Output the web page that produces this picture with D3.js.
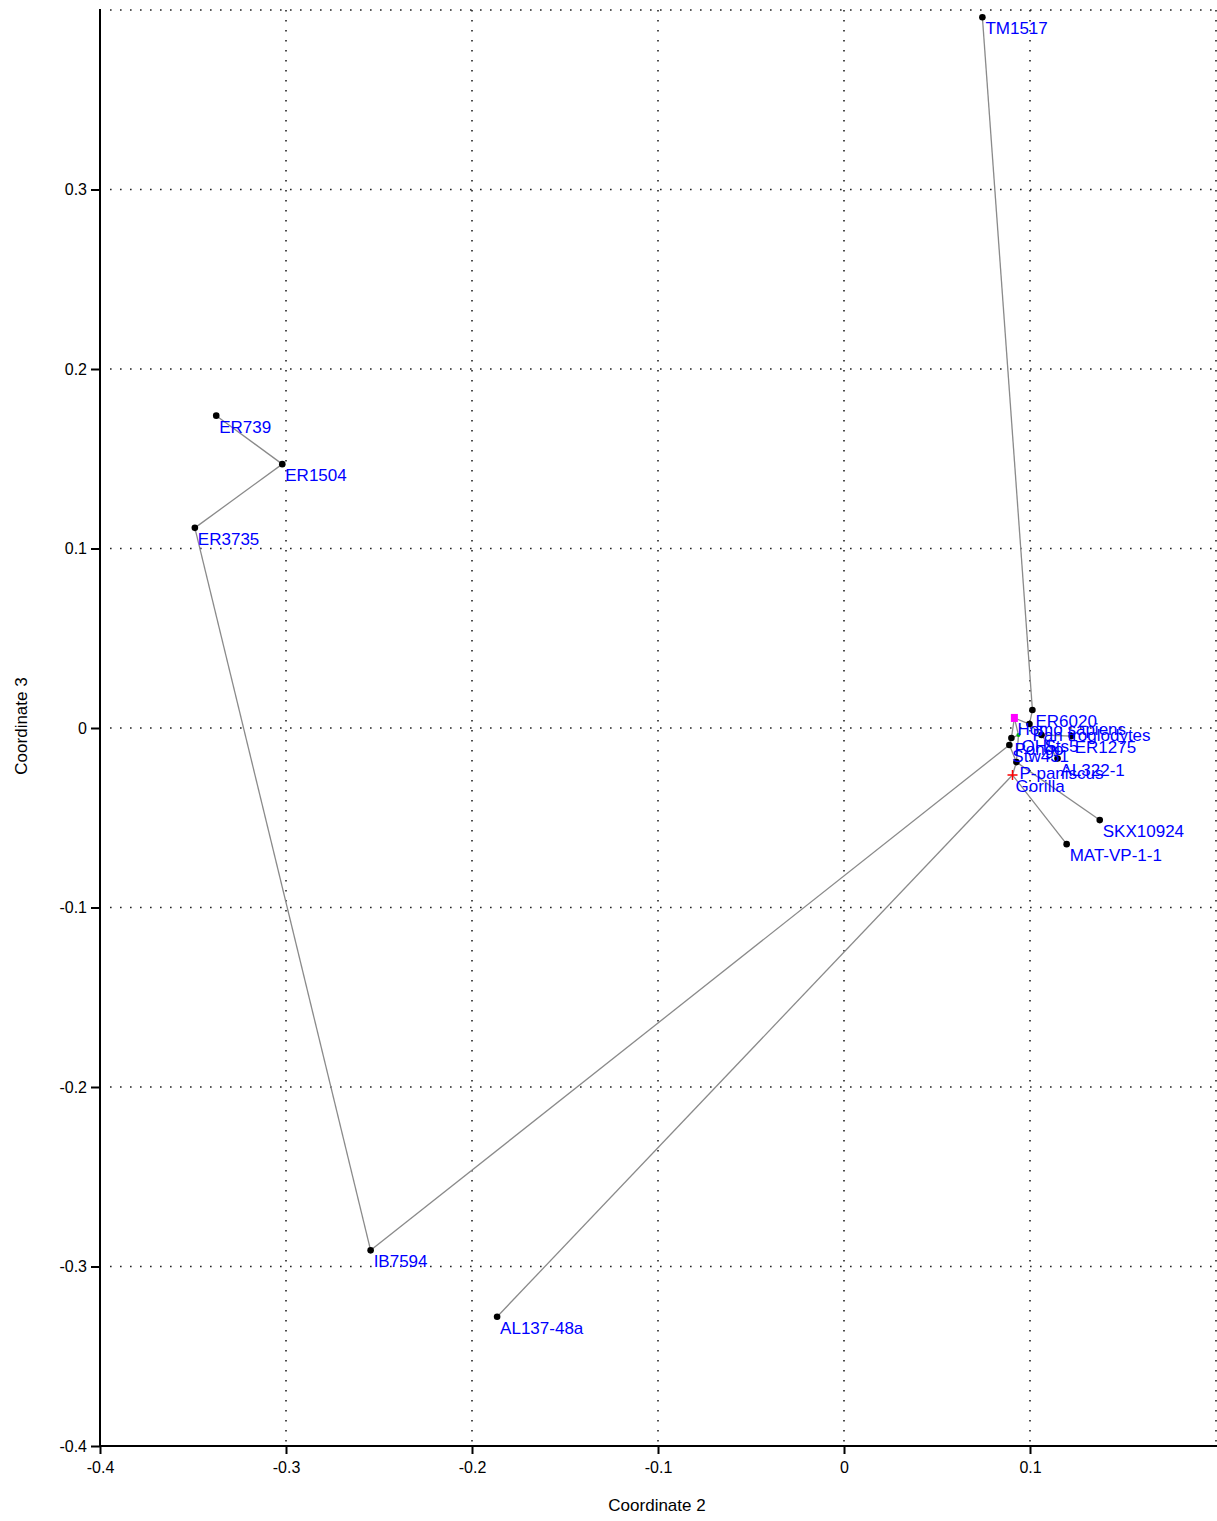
<!DOCTYPE html>
<html><head><meta charset="utf-8">
<script src="https://cdn.jsdelivr.net/npm/d3@7"></script>
<style>body{margin:0;background:#fff;} svg{display:block;}</style>
</head><body>
<svg id="c" width="1217" height="1521"></svg>
<script>
// Specimen names, Coordinate 2 (x), Coordinate 3 (y)
const names = ["TM1517","ER6020","Homo sapiens","Pan troglodytes","OH5","Pongo","Sts5","ER1275","Stw431","AL322-1","P-paniscus","Gorilla","SKX10924","MAT-VP-1-1","ER739","ER1504","ER3735","IB7594","AL137-48a"];
const coord2 = [0.0744,0.1013,0.0916,0.0997,0.0938,0.0900,0.1062,0.1224,0.0889,0.1148,0.0927,0.0906,0.1375,0.1197,-0.3375,-0.302,-0.349,-0.2545,-0.1865];
const coord3 = [0.396,0.0100,0.0056,0.0022,-0.0039,-0.0056,-0.0039,-0.0045,-0.0095,-0.0170,-0.0190,-0.0262,-0.0513,-0.0647,0.174,0.147,0.1115,-0.291,-0.328];
const markers = ["dot","dot","pink","dot","green","dot","dot","dot","dot","dot","dot","plus","dot","dot","dot","dot","dot","dot","dot"];
// minimum spanning tree edges
const edgeFrom = ["TM1517","ER6020","Pan troglodytes","Homo sapiens","OH5","Pongo","Stw431","P-paniscus","Sts5","ER1275","AL322-1","SKX10924","MAT-VP-1-1","IB7594","AL137-48a","ER739","ER1504","ER3735","Homo sapiens","OH5"];
const edgeTo   = ["ER6020","Pan troglodytes","Homo sapiens","OH5","Pongo","Stw431","P-paniscus","Gorilla","Pan troglodytes","Sts5","Sts5","P-paniscus","Gorilla","Stw431","Gorilla","ER1504","ER3735","IB7594","Pongo","P-paniscus"];
const xTicks = [-0.4,-0.3,-0.2,-0.1,0,0.1];
const yTicks = [-0.4,-0.3,-0.2,-0.1,0,0.1,0.2,0.3];
const xGrid = [-0.3,-0.2,-0.1,0,0.1,0.2];
const yGrid = [-0.3,-0.2,-0.1,0,0.1,0.2,0.3,0.4];

const svg = d3.select("#c");
const x = d3.scaleLinear().domain([-0.4,0.2]).range([100,1216]);
const y = d3.scaleLinear().domain([-0.4,0.4]).range([1446,10]);
const fmt = d => d===0 ? "0" : d3.format(".1f")(d).replace("\u2212","-");

// grid
const g = svg.append("g");
g.selectAll("line.vx").data(xGrid).join("line")
  .attr("x1",d=>x(d)).attr("x2",d=>x(d)).attr("y1",y(0.4)).attr("y2",y(-0.4))
  .attr("stroke","#222").attr("stroke-width",1.6).attr("stroke-dasharray","1.6,8.4");
g.selectAll("line.hy").data(yGrid).join("line")
  .attr("y1",d=>y(d)).attr("y2",d=>y(d)).attr("x1",x(-0.4)+10).attr("x2",x(0.2))
  .attr("stroke","#222").attr("stroke-width",1.6).attr("stroke-dasharray","1.6,8.4");

// axes
const xa = svg.append("g").attr("transform",`translate(0,${y(-0.4)})`)
  .call(d3.axisBottom(x).tickValues(xTicks).tickFormat(fmt).tickSize(8).tickPadding(8));
xa.select(".domain").attr("d",`M${x(-0.4)},0H1217`);
const ya = svg.append("g").attr("transform",`translate(${x(-0.4)},0)`)
  .call(d3.axisLeft(y).tickValues(yTicks).tickFormat(fmt).tickSize(9).tickPadding(4));
ya.select(".domain").attr("d",`M0,${y(0.4)-1}V${y(-0.4)}`);
svg.selectAll(".domain").attr("stroke","#000").attr("stroke-width",2);
svg.selectAll(".tick line").attr("stroke","#000").attr("stroke-width",2);
svg.selectAll(".tick text").attr("font-family","Arial, 'Liberation Sans', sans-serif").attr("font-size",16).attr("fill","#000");

svg.append("text").attr("x",657).attr("y",1511).attr("text-anchor","middle")
  .attr("font-family","Arial, 'Liberation Sans', sans-serif").attr("font-size",17).text("Coordinate 2");
svg.append("text").attr("transform","translate(27,726) rotate(-90)").attr("text-anchor","middle")
  .attr("font-family","Arial, 'Liberation Sans', sans-serif").attr("font-size",17).text("Coordinate 3");

// data
const pts = names.map((n,i)=>({name:n,x:coord2[i],y:coord3[i],m:markers[i]}));
const byName = Object.fromEntries(pts.map(p=>[p.name,p]));
const edges = edgeFrom.map((f,i)=>({a:byName[f],b:byName[edgeTo[i]]}));

svg.append("g").selectAll("line").data(edges).join("line")
  .attr("x1",e=>x(e.a.x)).attr("y1",e=>y(e.a.y)).attr("x2",e=>x(e.b.x)).attr("y2",e=>y(e.b.y))
  .attr("stroke","#8a8a8a").attr("stroke-width",1.3);

const pg = svg.append("g");
pg.selectAll("circle").data(pts.filter(p=>p.m==="dot"||p.m==="green")).join("circle")
  .attr("cx",p=>x(p.x)).attr("cy",p=>y(p.y)).attr("r",p=>p.m==="green"?2:3.3)
  .attr("fill",p=>p.m==="green"?"#00b000":"#000");
pg.selectAll("rect").data(pts.filter(p=>p.m==="pink")).join("rect")
  .attr("x",p=>x(p.x)-3.5).attr("y",p=>y(p.y)-4).attr("width",7).attr("height",8).attr("fill","#ff00ff");
pts.filter(p=>p.m==="plus").forEach(p=>{
  pg.append("path").attr("d",`M${x(p.x)-5},${y(p.y)}h10M${x(p.x)},${y(p.y)-5}v10`)
    .attr("stroke","#ff0000").attr("stroke-width",1.5);
});

svg.append("g").selectAll("text").data(pts).join("text")
  .attr("x",p=>x(p.x)+3).attr("y",p=>y(p.y)+17)
  .attr("font-family","Arial, 'Liberation Sans', sans-serif").attr("font-size",17)
  .attr("fill","#0000ff").text(p=>p.name);
</script>
</body></html>
